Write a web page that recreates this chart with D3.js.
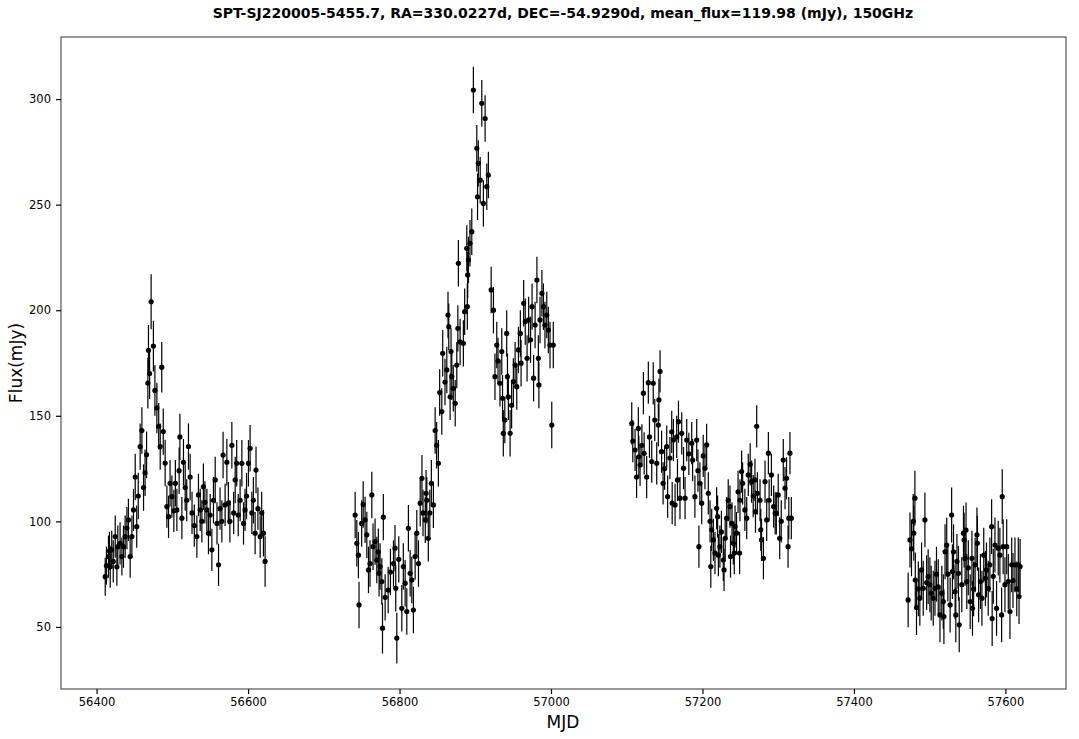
<!DOCTYPE html>
<html><head><meta charset="utf-8">
<script src="https://cdn.jsdelivr.net/npm/d3@7"></script>
<style>body{margin:0;background:#fff}svg{display:block}text{font-family:"DejaVu Sans",sans-serif}</style>
</head><body>
<svg id="c" width="1079" height="739"></svg>
<script>
const titleText = "SPT-SJ220005-5455.7, RA=330.0227d, DEC=-54.9290d, mean_flux=119.98 (mJy), 150GHz";
const xLabel = "MJD", yLabel = "Flux(mJy)";
const xTicks = [56400,56600,56800,57000,57200,57400,57600];
const yTicks = [50,100,150,200,250,300];
// [MJD, flux (mJy), error (mJy)]
const season1 = [
[56411.4,73.8,9],[56413,79,9],[56415.7,83.3,10],[56417,86,9],[56418,78.5,10],[56420,86.5,9],[56422,81,10],[56424.6,92.8,10],
[56426.8,78.5,9],[56428,88,10],[56431,89.6,10],[56433.4,83.3,9],[56435.5,88,10],[56437.7,92.8,10],[56440,96.8,10],[56442,100.7,10],
[56444.3,83.3,10],[56446.6,92.8,10],[56448.7,105.4,10],[56451,121,11],[56453,97.5,10],[56455,112,11],[56457.5,135.4,11],[56459.8,143,11],
[56462,116,11],[56464,123,11],[56466,131.5,11],[56467.7,165.5,12],[56468.5,181,12],[56470,170,12],[56472,204,13],[56475,183,12],
[56477,162,12],[56479.6,153.7,12],[56482,145,11],[56484,135.4,11],[56486,173,12],[56488,142.5,11],[56490.5,127.6,11],[56492.8,107,10],
[56495,102.2,10],[56497,118,11],[56499.4,111.7,10],[56502,105,10],[56504,118,11],[56506,105.4,10],[56509,124,11],[56510,140,11],
[56512.6,101.5,10],[56514.7,128,11],[56517,116,11],[56519,110,10],[56521.3,135.4,11],[56523.5,121,11],[56526,104,10],[56529,98,10],
[56532.4,92.8,10],[56534.5,112.5,10],[56536.8,105.4,10],[56539,100,10],[56541,116.4,11],[56543,109,10],[56545.6,105.4,10],[56547.7,94.4,10],
[56550,103,10],[56552.2,86.5,10],[56554.3,110,11],[56556.6,119.6,11],[56559,99,10],[56561,79.4,10],[56563,106,10],[56565.4,100,10],
[56567,131.4,11],[56569.7,107.8,10],[56572,128,11],[56574,108.6,10],[56576,100,10],[56578.6,136,11],[56581,104,10],[56583,119.6,11],
[56585,127.5,11],[56587,103,10],[56589.5,110,10],[56591.8,127.5,11],[56594,99,10],[56596,105.4,10],[56598,112,11],[56600.5,127.5,11],
[56602.7,134.6,11],[56605,104,10],[56607,110,11],[56609.3,94.4,10],[56610.5,124.3,11],[56613,106,10],[56616,92.8,10],[56618,104,10],
[56620.3,94.4,11],[56622.5,81,12]];
const season2 = [
[56741.4,103,11],[56743.6,89.6,11],[56745.7,84,11],[56746.5,60.4,11],[56750,99,11],[56752,108,11],[56754.5,100.7,11],[56756.8,93.6,11],
[56759,77,11],[56761,80,11],[56763.4,112.5,11],[56765,88,11],[56767.7,90.4,11],[56770,81.7,11],[56772,85.6,11],[56773,75.4,11],
[56774.3,78.6,11],[56776.6,71.5,11],[56777.5,49.4,12],[56778.6,102,11],[56781,64,11],[56785,67.5,11],[56788,76,11],[56792,80,11],
[56794,87.3,11],[56795,68.3,11],[56796.4,44.7,12],[56799,82,11],[56803,58.8,11],[56805,78.6,11],[56807.4,70.7,11],[56809.6,57.3,11],
[56811.7,96.7,11],[56814,75.4,11],[56816.2,72.2,11],[56818.3,58,11],[56820.6,83.3,11],[56822.8,94.4,11],[56825,80,11],[56827.3,108.6,11],
[56829.6,120.4,11],[56831,104,11],[56834,100.7,11],[56835,113.3,11],[56836,110,11],[56838,92,11],[56840,104,11],[56842,118,11],
[56844.7,107.8,11],[56847,143,11],[56849,136,11],[56851.3,127.5,11],[56853,161,11],[56855.8,152,11],[56857,179.6,11],[56860,166,11],
[56862.4,171.7,11],[56864,197.7,11],[56865,192.2,11],[56866.8,159,11],[56868,180.4,11],[56869,168.5,11],[56871,163,11],[56873.5,155.9,11],
[56875.6,174,11],[56877,191.4,11],[56877.7,222.2,11],[56880,185,11],[56884.3,184.3,11],[56886,199.3,11],[56888.8,229.3,11],[56889.5,201.7,11],
[56890,216.7,11],[56891,223.8,11],[56893,231.7,11],[56895.4,237.2,11],[56897.5,304.3,11],[56902,276.7,11],[56903,253.7,11],[56904,269.5,11],
[56906.5,261.6,11],[56908.6,298,11],[56910.7,250.6,11],[56913,290.8,11],[56915.2,258.5,11],[56917.3,264,11],[56921,209.6,11],[56924,200,11],
[56926,168.5,11],[56928.4,183.5,11],[56930,176,11],[56932.6,165.4,11],[56935,180.4,11],[56936,158.3,11],[56937,141.7,11],[56939,148,11],
[56941.5,189,11],[56942.5,168.5,11],[56943.7,159,11],[56946,141.7,11],[56948,155,11],[56950.3,166.2,11],[56952.6,174,11],[56954.8,163.8,11],
[56957,181.2,11],[56959.5,189,11],[56960.5,174.9,11],[56963.9,203.3,11],[56966,194.6,11],[56968.4,177.2,11],[56970.5,195.4,11],[56973,186,11],
[56975,201.7,11],[56977,167.8,11],[56979,193,11],[56981.4,214.3,11],[56983.3,177.2,11],[56984,164.6,11],[56985.5,195.4,11],[56988,208,11],
[56990,201.7,11],[56992,193,11],[56994.4,197.7,11],[56996.5,190.6,11],[56998.7,183.5,11],[57001,145.6,11],[57003,183.5,11]];
const season3 = [
[57106.6,146.4,10],[57108,138,10],[57111,133.8,10],[57113,121,10],[57115.3,144,10],[57116,130.6,10],[57117.6,126.7,10],[57120,136,10],
[57122,160.7,10],[57123,132.2,10],[57126.3,121,10],[57128.5,165.7,10],[57130,140,10],[57133,128.3,10],[57135,165.4,10],[57137,148,10],
[57139.6,127.5,10],[57141.7,145.6,10],[57142.5,157.5,10],[57144,171,10],[57146,133,10],[57148,118,10],[57150,125,10],[57152.8,135.4,10],
[57154,111.7,10],[57157,130,10],[57159.4,142.4,10],[57160,108.6,10],[57161.6,138.5,10],[57163.8,107.8,10],[57166,140,10],[57167,119.6,10],
[57168.3,147.2,10],[57170.3,111,10],[57172.6,141.7,10],[57175,125.2,10],[57177,111,10],[57179.2,138.5,10],[57182,132,10],[57185.8,137,10],
[57187,129,10],[57190,111.7,10],[57192.4,138.5,10],[57194,124,10],[57195.3,88,10],[57196.6,118,10],[57199,108.6,10],[57201,131,10],
[57203.3,125.2,10],[57205.5,136.2,10],[57207.7,113.3,10],[57210,100,10],[57211,78.6,10],[57212.2,96,10],[57214.4,91.2,10],[57216.5,85,10],
[57218.7,106.2,10],[57220,102.2,10],[57221,84,10],[57223,88,10],[57225,95,10],[57227.5,81.7,10],[57228.5,77,10],[57230,92,10],
[57232,101.5,10],[57234,110,10],[57236.3,107,10],[57237,83.3,10],[57239,99,10],[57240.7,89.6,10],[57242,85,10],[57243,97.5,10],
[57245,94.4,10],[57247,114,10],[57249,85,10],[57249.5,110,10],[57251.7,123.6,10],[57253,118,10],[57256,105.4,10],[57258.4,101.5,10],
[57260.5,122,10],[57263,127,10],[57264.9,118.8,10],[57267,112,10],[57269.3,119.6,10],[57270,104.6,10],[57271.6,145,10],[57272.5,113.3,10],
[57276,110,10],[57277,96,10],[57278,91.2,10],[57280.5,82.5,10],[57282.6,118.8,10],[57284.8,100.7,10],[57287,132.3,10],[57288,110,10],
[57291,122,10],[57294,107,10],[57296,103.8,10],[57297.5,103.8,10],[57300,112.5,10],[57302,92,10],[57304,100,10],[57306.7,129,10],
[57309,115.7,10],[57311,120.4,10],[57313,88,10],[57314,101.5,10],[57315.5,132.3,10],[57317.3,101.5,10]];
const season4 = [
[57471.6,62.8,13],[57474,91.2,13],[57476,87,13],[57478.3,100,13],[57479,94.4,13],[57480.5,111,13],[57481,72.2,13],[57482.6,59.2,13],
[57485,68,13],[57487,63.6,13],[57489.3,77,13],[57491.5,68.3,13],[57493.7,100.7,13],[57496,71,13],[57498,73.8,13],[57500.3,70,13],
[57502,66,13],[57504.7,63.6,13],[57507,68.3,13],[57509,75,13],[57511.3,69,13],[57513.6,55.7,13],[57516,66,13],[57518,62,13],
[57518.8,54.9,13],[57520.3,85.6,13],[57522.5,88.8,13],[57524,75,13],[57527,60.4,13],[57529,103,13],[57530,76.2,13],[57531.5,85.6,13],
[57533.6,66.7,13],[57534.5,55.7,13],[57536,81,13],[57538,75.4,13],[57539,51,13],[57542.4,70,13],[57544.6,94.4,13],[57545.5,91.2,13],
[57546.8,82.5,13],[57548,95.9,13],[57549,71.5,13],[57551,78,13],[57553.5,62,13],[57555.8,82.5,13],[57556.5,58.8,13],[57558,68,13],
[57560,79.4,13],[57562.4,93.6,13],[57563,89.6,13],[57564.6,65.2,13],[57567,71.5,13],[57569,63.6,13],[57571.4,84,13],[57573.6,73,13],
[57575,77,13],[57577.3,68.3,13],[57579.5,79.4,13],[57581.8,97.5,13],[57582.5,54,13],[57584,74,13],[57586.2,88.8,13],[57588.3,58.8,13],
[57590.5,87.3,13],[57592.7,84,13],[57595,55.7,13],[57595.8,111.7,13],[57597,88,13],[57599.4,70,13],[57601.7,88,13],[57603.8,71.5,13],
[57606,57.3,13],[57608.3,79.4,13],[57610,72,13],[57612.6,79.4,13],[57615,68,13],[57617,79.4,13],[57618,64.4,13],[57619.4,78.6,13]];

const seasons = [season1, season2, season3, season4];
const pts = seasons.flat();
const svg = d3.select("#c");
const L = 61, R = 1066, T = 37, B = 689;
const x = d3.scaleLinear().domain([56353, 57680]).range([L, R]);
const y = d3.scaleLinear().domain([20.6, 329.4]).range([B, T]);

svg.append("text").attr("x", 563).attr("y", 18).attr("text-anchor","middle")
  .attr("font-size", 14).attr("font-weight","bold").text(titleText);

svg.append("g").selectAll("line").data(pts).join("line")
  .attr("x1", d => x(d[0])).attr("x2", d => x(d[0]))
  .attr("y1", d => y(d[1]-d[2])).attr("y2", d => y(d[1]+d[2]))
  .attr("stroke","#000").attr("stroke-width",1.2);
svg.append("g").selectAll("circle").data(pts).join("circle")
  .attr("cx", d => x(d[0])).attr("cy", d => y(d[1])).attr("r", 2.6).attr("fill","#000");

svg.append("rect").attr("x",L).attr("y",T).attr("width",R-L).attr("height",B-T)
  .attr("fill","none").attr("stroke","#555").attr("stroke-width",1.2);

const xa = svg.append("g").attr("transform",`translate(0,${B})`)
  .call(d3.axisBottom(x).tickValues(xTicks).tickFormat(d3.format("d")).tickSize(5).tickPadding(4));
const ya = svg.append("g").attr("transform",`translate(${L},0)`)
  .call(d3.axisLeft(y).tickValues(yTicks).tickFormat(d3.format("d")).tickSize(5).tickPadding(5));
[xa, ya].forEach(a => {
  a.select(".domain").remove();
  a.selectAll(".tick line").attr("stroke","#000").attr("stroke-width",1.2);
  a.selectAll(".tick text").attr("font-size",11.5).attr("fill","#000").attr("font-family","DejaVu Sans, sans-serif");
});

svg.append("text").attr("x", 563).attr("y", 728).attr("text-anchor","middle")
  .attr("font-size", 17).text(xLabel);
svg.append("text").attr("transform","translate(22,363) rotate(-90)").attr("text-anchor","middle")
  .attr("font-size", 17).text(yLabel);
</script>
</body></html>
